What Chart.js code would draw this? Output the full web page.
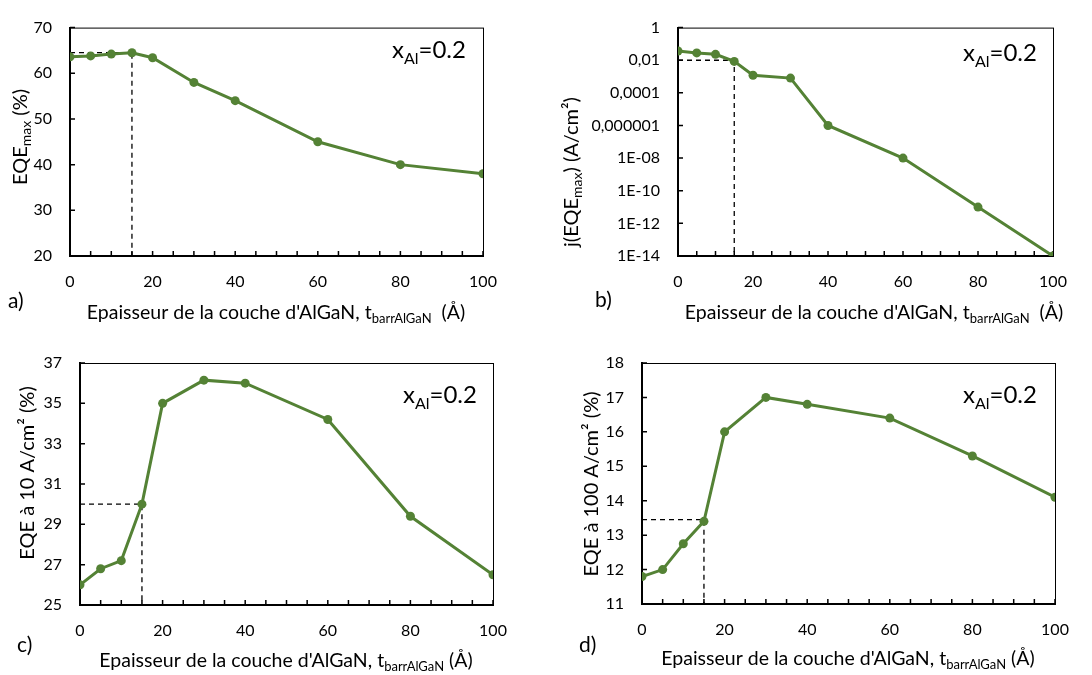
<!DOCTYPE html>
<html>
<head>
<meta charset="utf-8">
<script src="https://cdn.jsdelivr.net/npm/chart.js@4.4.0/dist/chart.umd.min.js"></script>
<style>
  html, body { margin: 0; padding: 0; background: #fff; }
  #wrap { position: relative; width: 1092px; height: 675px; overflow: hidden; }
  canvas { position: absolute; }
</style>
</head>
<body>
<div id="wrap">
  <canvas id="chartA" width="546" height="330" style="left:0;top:0"></canvas>
  <canvas id="chartB" width="546" height="330" style="left:546px;top:0"></canvas>
  <canvas id="chartC" width="546" height="345" style="left:0;top:330px"></canvas>
  <canvas id="chartD" width="546" height="345" style="left:546px;top:330px"></canvas>
</div>
<script>
// épaisseur de barrière AlGaN (Å)
const thickness = [0, 5, 10, 15, 20, 30, 40, 60, 80, 100];
const xLabels = [0, 20, 40, 60, 80, 100];

// a) EQE max (%)
const eqeMax = [63.6, 63.8, 64.2, 64.5, 63.4, 58, 54, 45, 40, 38];
// b) j(EQE max) (A/cm²)
const jEqeMax = [0.037, 0.028, 0.023, 0.0085, 0.0012, 0.0008, 1e-6, 1e-8, 1e-11, 1e-14];
const jTicks = [1, 1e-2, 1e-4, 1e-6, 1e-8, 1e-10, 1e-12, 1e-14];
const jTickLabels = ['1', '0,01', '0,0001', '0,000001', '1E-08', '1E-10', '1E-12', '1E-14'];
// c) EQE à 10 A/cm² (%)
const eqe10 = [26.0, 26.8, 27.2, 30.0, 35.0, 36.15, 36.0, 34.2, 29.4, 26.5];
// d) EQE à 100 A/cm² (%)
const eqe100 = [11.8, 12.0, 12.75, 13.4, 16.0, 17.0, 16.8, 16.4, 15.3, 14.1];

// lignes pointillées (t = 15 Å)
const guideX = 15;
const guideA = 64.5, guideB = 0.01, guideC = 30.0, guideD = 13.45;

const GREEN = '#548235';
const FONT = 'Lato, "Open Sans", sans-serif';
Chart.defaults.font.family = FONT;
Chart.defaults.font.size = 16;
Chart.defaults.color = '#000';

function rich(ctx, parts, x, y, align) {
  let w = 0;
  parts.forEach(p => { ctx.font = `${p.s}px ${FONT}`; w += ctx.measureText(p.t).width; });
  let cx = align === 'center' ? x - w / 2 : x;
  parts.forEach(p => {
    ctx.font = `${p.s}px ${FONT}`;
    ctx.fillText(p.t, cx, y + (p.dy || 0));
    cx += ctx.measureText(p.t).width;
  });
}

const xTitle = (wide) => [
  {t: "Epaisseur de la couche d'AlGaN, t", s: 19.5},
  {t: 'barrAlGaN', s: 13, dy: 4},
  {t: wide ? '  (Å)' : ' (Å)', s: 19.5},
];
const xAl = [{t: 'x', s: 24}, {t: 'Al', s: 16, dy: 6}, {t: '=0.2', s: 24}];

const decor = {
  id: 'decor',
  beforeDatasetsDraw(chart) {
    const ctx = chart.ctx, a = chart.chartArea;
    const xs = chart.scales.x, ys = chart.scales.y;
    ctx.save();
    ctx.strokeStyle = '#000';
    ctx.lineWidth = 1;
    ctx.strokeRect(a.left + .5, a.top + .5, a.right - a.left, a.bottom - a.top);
    ctx.lineWidth = 1.5;
    ctx.beginPath();
    xs.ticks.forEach(t => {
      const px = xs.getPixelForValue(t.value);
      ctx.moveTo(px, a.bottom); ctx.lineTo(px, a.bottom - 5);
    });
    ys.ticks.forEach(t => {
      const py = ys.getPixelForValue(t.value);
      ctx.moveTo(a.left, py); ctx.lineTo(a.left + 5, py);
    });
    ctx.stroke();
    ctx.restore();
  },
  afterDraw(chart, args, o) {
    const ctx = chart.ctx;
    ctx.save();
    ctx.fillStyle = '#000';
    ctx.textBaseline = 'alphabetic';
    ctx.font = `21px ${FONT}`;
    ctx.fillText(o.letter, o.letterX, o.letterY);
    rich(ctx, xAl, o.alX, o.alY, 'left');
    rich(ctx, xTitle(o.wide), o.xtX, o.xtY, 'center');
    ctx.translate(o.ytX, o.ytY);
    ctx.rotate(-Math.PI / 2);
    rich(ctx, o.yTitle, 0, 7, 'center');
    ctx.restore();
  }
};

function seriesDataset(values) {
  return {
    data: thickness.map((x, i) => ({x, y: values[i]})),
    borderColor: GREEN, backgroundColor: GREEN, borderWidth: 3,
    pointRadius: 4.5, pointHoverRadius: 4.5, pointBorderWidth: 0, order: 1
  };
}
function guideDataset(yVal, yMin) {
  return {
    data: [{x: 0, y: yVal}, {x: guideX, y: yVal}, {x: guideX, y: yMin}],
    borderColor: '#000', borderWidth: 1.3, borderDash: [5, 4],
    pointRadius: 0, fill: false, order: 2
  };
}

function makePanel(id, box, yScale, values, guide, deco) {
  const canvas = document.getElementById(id);
  const W = canvas.width, H = canvas.height;
  return new Chart(canvas, {
    type: 'line',
    data: { datasets: [seriesDataset(values), guideDataset(guide, yScale.min)] },
    options: {
      responsive: false,
      animation: false,
      devicePixelRatio: 1,
      layout: { padding: { left: 0, top: box.top, right: W - box.right, bottom: 0 } },
      plugins: { legend: { display: false }, tooltip: { enabled: false }, decor: deco },
      scales: {
        x: {
          type: 'linear', min: 0, max: 100,
          ticks: {
            stepSize: 5, autoSkip: false, maxRotation: 0, padding: 16,
            callback: v => xLabels.includes(v) ? String(v) : ''
          },
          grid: { display: false, drawTicks: false },
          border: { display: true, color: '#000', width: 2 },
          afterFit: s => { s.height = H - box.bottom; }
        },
        y: Object.assign({
          grid: { display: false, drawTicks: false },
          border: { display: true, color: '#000', width: 2 },
          afterFit: s => { s.width = box.left; }
        }, yScale)
      }
    },
    plugins: [decor]
  });
}

const linY = (min, max, step) => ({
  type: 'linear', min, max,
  ticks: { stepSize: step, padding: 18 }
});

const yt = 20, ys = 14;

makePanel('chartA', {left: 70, right: 483, top: 15, bottom: 256},
  linY(20, 70, 10), eqeMax, guideA,
  {letter: 'a)', letterX: 8, letterY: 308, alX: 392, alY: 58, xtX: 276, xtY: 319, wide: true,
   ytX: 20, ytY: 137,
   yTitle: [{t: 'EQE', s: yt}, {t: 'max', s: ys, dy: 4}, {t: ' (%)', s: yt}]});

makePanel('chartB', {left: 132, right: 507, top: 15, bottom: 256},
  {
    type: 'logarithmic', min: 1e-14, max: 1,
    afterBuildTicks: s => { s.ticks = jTicks.map(v => ({value: v})); },
    ticks: { padding: 18, autoSkip: false, callback: (v, i) => jTickLabels[i] }
  }, jEqeMax, guideB,
  {letter: 'b)', letterX: 49, letterY: 307, alX: 417, alY: 61, xtX: 328, xtY: 319, wide: true,
   ytX: 25, ytY: 172,
   yTitle: [{t: 'j(EQE', s: yt}, {t: 'max', s: ys, dy: 4}, {t: ') (A/cm²)', s: yt}]});

makePanel('chartC', {left: 80, right: 493, top: 33, bottom: 275},
  linY(25, 37, 2), eqe10, guideC,
  {letter: 'c)', letterX: 17, letterY: 322, alX: 403, alY: 73, xtX: 286, xtY: 337, wide: false,
   ytX: 27, ytY: 143,
   yTitle: [{t: 'EQE à 10 A/cm² (%)', s: yt}]});

makePanel('chartD', {left: 96, right: 509, top: 33, bottom: 274},
  linY(11, 18, 1), eqe100, guideD,
  {letter: 'd)', letterX: 33, letterY: 322, alX: 417, alY: 73, xtX: 302, xtY: 335, wide: false,
   ytX: 45, ytY: 154,
   yTitle: [{t: 'EQE à 100 A/cm² (%)', s: yt}]});
</script>
</body>
</html>
